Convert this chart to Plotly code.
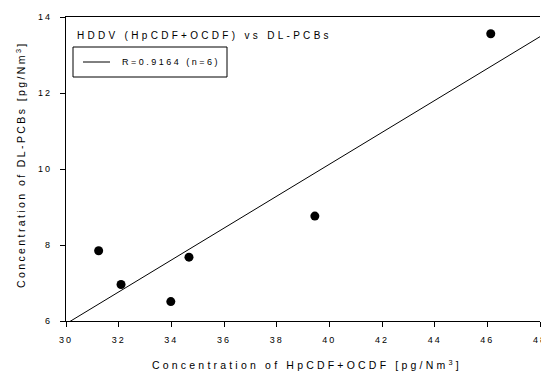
import numpy as np
import plotly.graph_objects as go

# Data
hpcdf_ocdf = [31.24, 32.09, 33.98, 34.67, 39.45, 46.13]
dl_pcbs = [7.85, 6.96, 6.51, 7.68, 8.76, 13.56]
x_ticks = [30, 32, 34, 36, 38, 40, 42, 44, 46, 48]
y_ticks = [6, 8, 10, 12, 14]
x_range = [30, 48]
y_range = [6, 14]
fit_label = "R=0.9164 (n=6)"
title_text = "HDDV (HpCDF+OCDF) vs DL-PCBs"
x_title = "Concentration of HpCDF+OCDF [pg/Nm<sup>3</sup>]"
y_title = "Concentration of DL-PCBs [pg/Nm<sup>3</sup>]"

slope, intercept = np.polyfit(hpcdf_ocdf, dl_pcbs, 1)
line_x = np.array(x_range, dtype=float)
line_y = slope * line_x + intercept

FONT = "Liberation Sans, Arial, sans-serif"


def sp(text, ls=2):
    return f'<span style="letter-spacing:{ls}px">{text}</span>'


fig = go.Figure()
fig.add_trace(go.Scatter(
    x=line_x, y=line_y, mode="lines",
    line=dict(color="black", width=1),
    name=fit_label, showlegend=False,
))
fig.add_trace(go.Scatter(
    x=hpcdf_ocdf, y=dl_pcbs, mode="markers",
    marker=dict(color="black", size=9),
    showlegend=False,
))

W, H = 541, 372
L, R, T, B = 66, 1, 17, 51
pw, ph = W - L - R, H - T - B


def px(x):
    return (x - L) / pw


def py(y):
    return (H - B - y) / ph


shapes = [
    # legend box
    dict(type="rect", xref="paper", yref="paper",
         x0=px(73), x1=px(227), y0=py(47), y1=py(77),
         line=dict(color="black", width=1), fillcolor="white", layer="above"),
    # legend line sample
    dict(type="line", xref="paper", yref="paper",
         x0=px(83), x1=px(110), y0=py(62), y1=py(62),
         line=dict(color="black", width=1), layer="above"),
]

fig.update_layout(
    width=W, height=H,
    margin=dict(l=L, r=R, t=T, b=B, autoexpand=False),
    paper_bgcolor="white", plot_bgcolor="white",
    font=dict(family=FONT, color="black", size=9),
    showlegend=False,
    shapes=shapes,
    xaxis=dict(
        range=x_range, tickvals=x_ticks,
        ticktext=[sp(str(t), 2) for t in x_ticks],
        showline=True, linecolor="black", linewidth=1.2, mirror=True,
        ticks="outside", ticklen=5, tickcolor="black",
        showgrid=False, zeroline=False, ticklabelstandoff=5,
        ticklabeloverflow="allow",
        tickfont=dict(size=9),
    ),
    yaxis=dict(
        range=y_range, tickvals=y_ticks,
        ticktext=[sp(str(t), 2) for t in y_ticks],
        showline=True, linecolor="black", linewidth=1.2,
        ticks="outside", ticklen=5, tickcolor="black",
        showgrid=False, zeroline=False, ticklabelstandoff=6,
        tickfont=dict(size=9),
    ),
    annotations=[
        dict(text=sp(title_text, 3.3), xref="paper", yref="paper",
             x=px(75), y=py(35), xanchor="left", yanchor="middle",
             showarrow=False, font=dict(size=10)),
        dict(text=sp(fit_label, 2.5), xref="paper", yref="paper",
             x=px(120), y=py(62), xanchor="left", yanchor="middle",
             showarrow=False, font=dict(size=9)),
        dict(text=sp(x_title, 3.2), xref="paper", yref="paper",
             x=px(307), y=py(364), xanchor="center", yanchor="middle",
             showarrow=False, font=dict(size=10.5)),
        dict(text=sp(y_title, 2.4), xref="paper", yref="paper",
             x=px(20), y=py(165), xanchor="center", yanchor="middle",
             showarrow=False, textangle=-90, font=dict(size=10.5)),
    ],
)

fig.write_html("out.html", config={"displayModeBar": False},
               post_script="document.body.style.margin='0';document.body.style.overflow='hidden';")
